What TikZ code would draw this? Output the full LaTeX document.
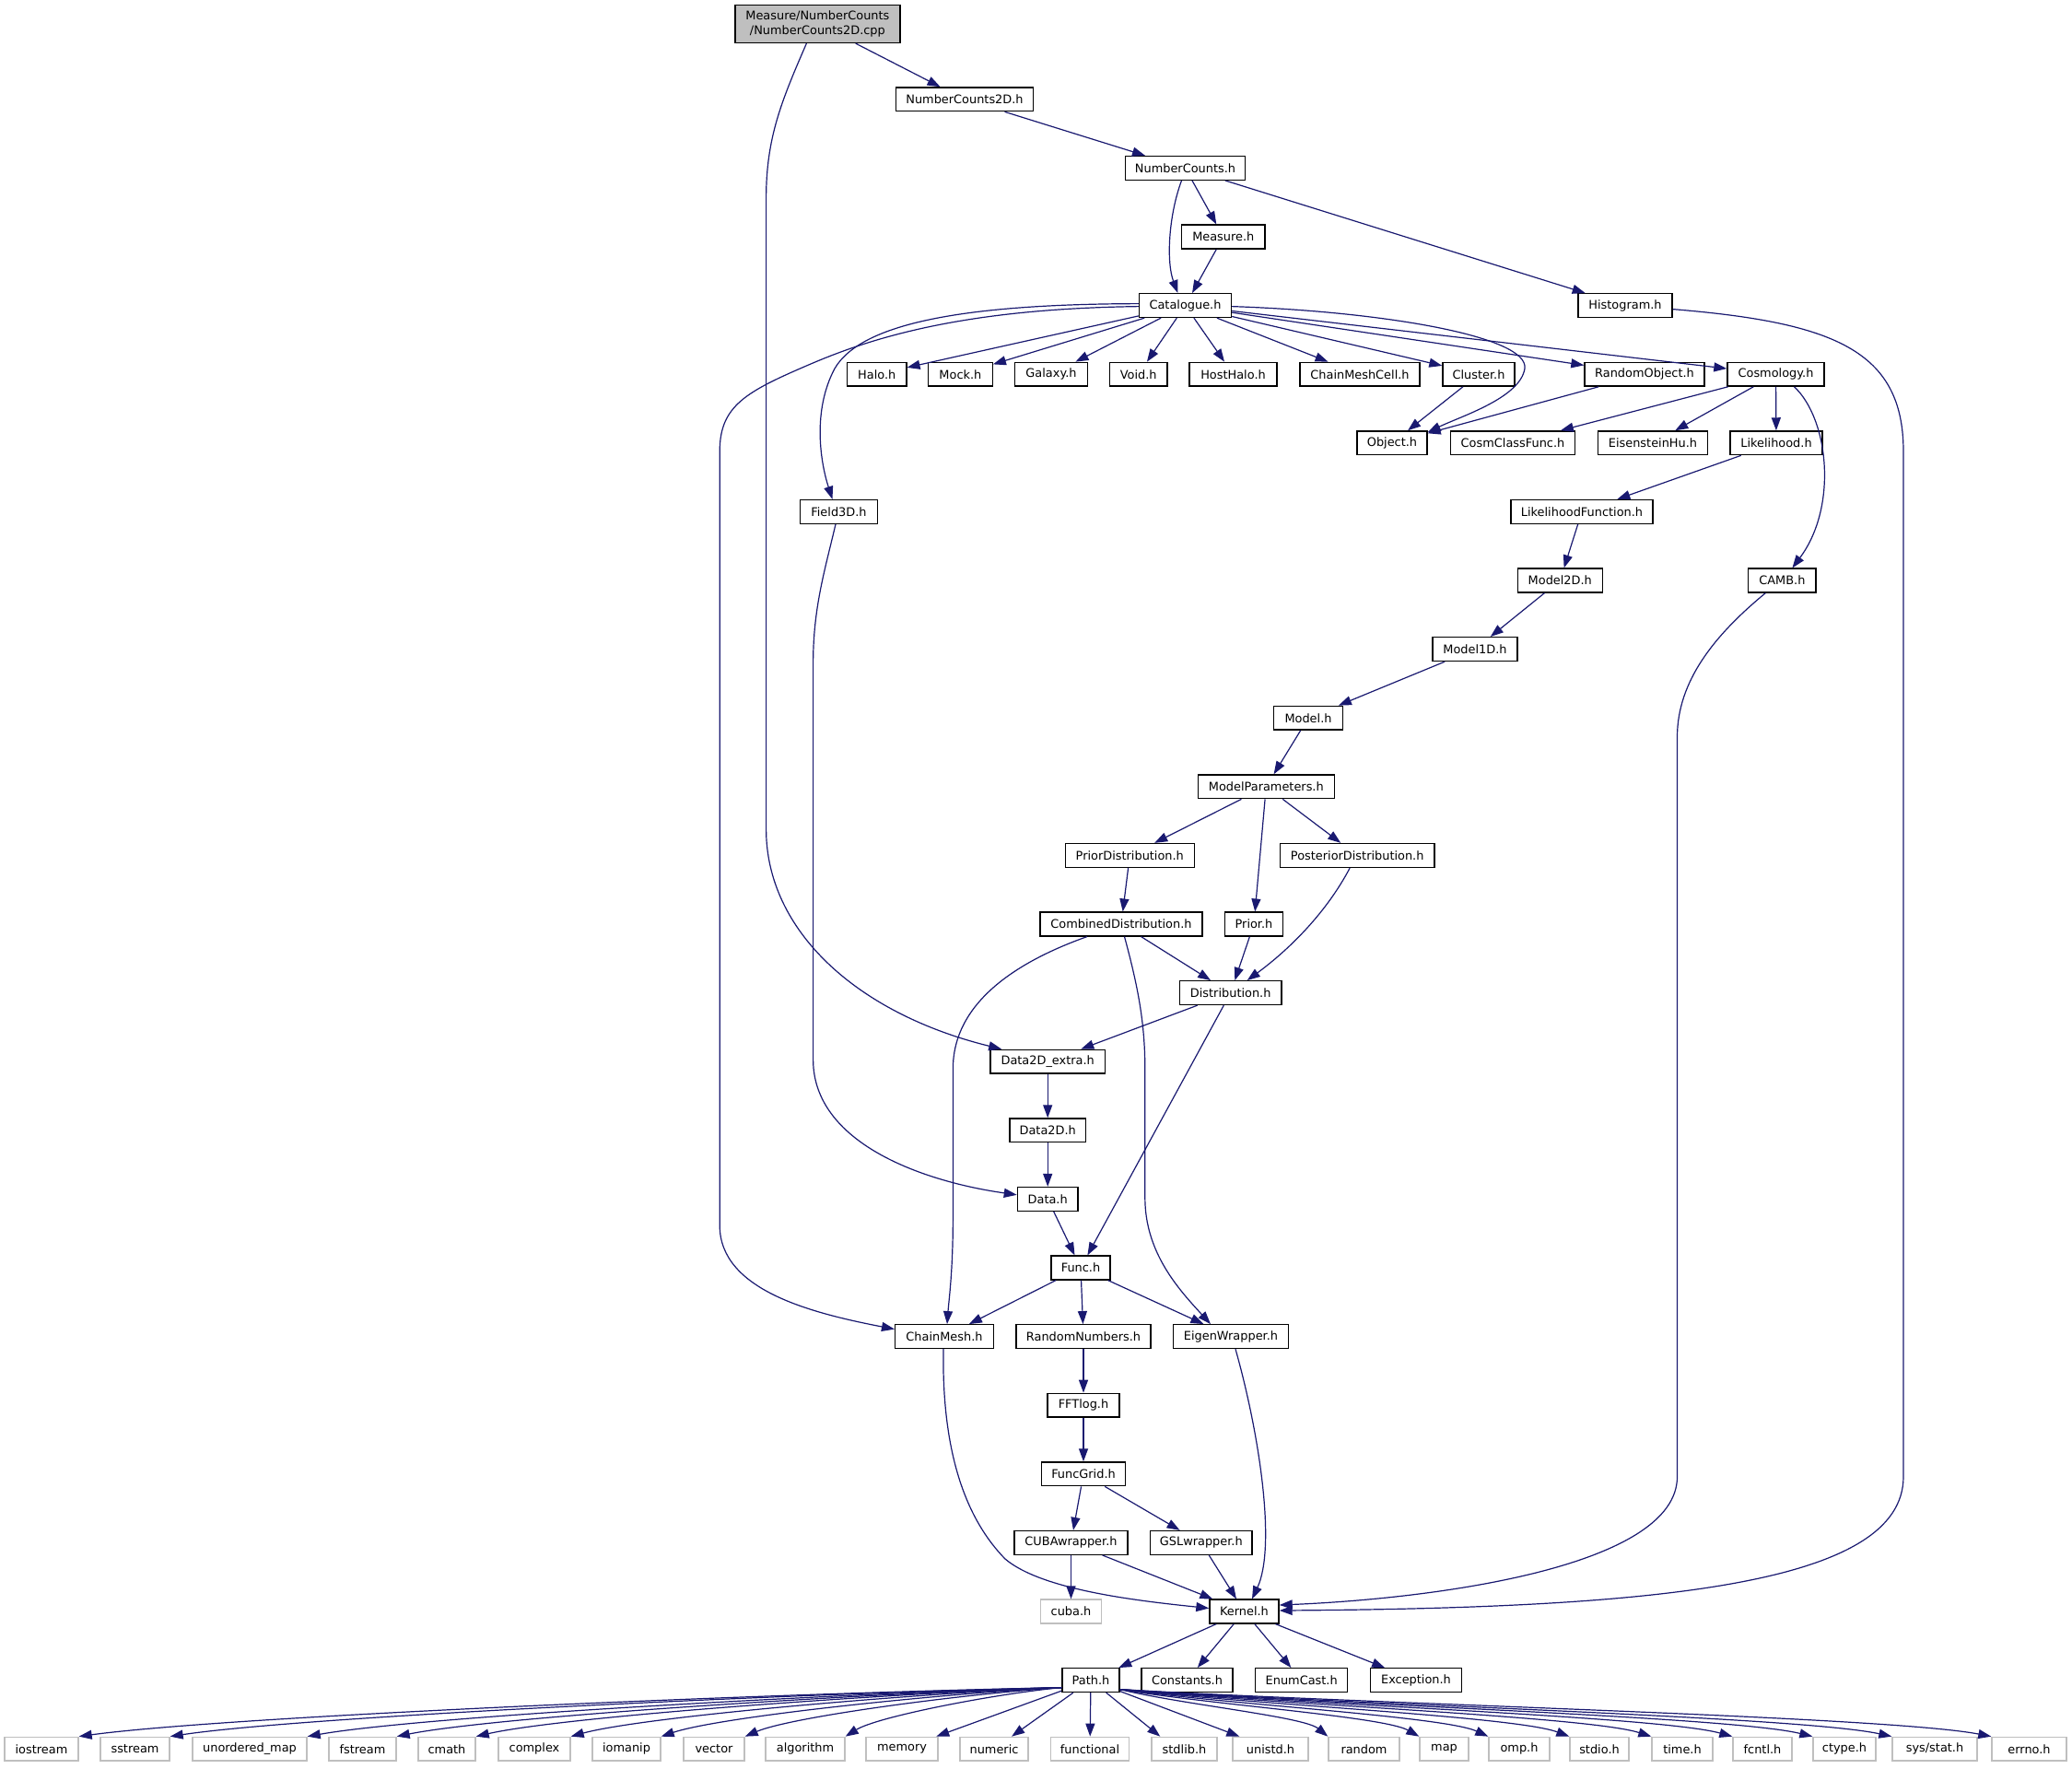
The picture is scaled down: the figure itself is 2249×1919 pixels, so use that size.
\documentclass[tikz,border=0pt]{standalone}
\usepackage{fontspec}
\setmainfont{DejaVu Sans}
\usetikzlibrary{arrows.meta,calc}
\definecolor{edgec}{HTML}{191970}
\definecolor{grayb}{HTML}{BFBFBF}
\begin{document}
\begin{tikzpicture}[x=0.5pt,y=-0.5pt,
  box/.style={draw=black,fill=white,line width=0.7pt,minimum height=12.85pt,inner sep=0pt,
    font=\fontsize{6.45pt}{7.65pt}\selectfont,text=black},
  graybox/.style={box,draw=grayb},
  topbox/.style={box,fill=grayb,minimum height=20.5pt,minimum width=89.5pt,align=center},
  wd/.style={minimum width=#1*0.5pt},
  conn/.style={draw=edgec,line width=0.6pt,-{Triangle[length=7pt,width=5pt]}}]
\useasboundingbox (0,0) rectangle (2249,1919);

% nodes
\node[topbox] (cpp) at (887.4,25.9) {Measure/NumberCounts\\/NumberCounts2D.cpp};
\node[box,wd=149] (nc2d) at (1047,107.8) {NumberCounts2D.h};
\node[box,wd=130] (nc) at (1286.5,182.4) {NumberCounts.h};
\node[box,wd=90.4] (meas) at (1327.8,257) {Measure.h};
\node[box,wd=100] (cat) at (1286.5,331.6) {Catalogue.h};
\node[box,wd=102] (hist) at (1764,331.6) {Histogram.h};

\node[box,wd=64.3] (halo) at (951.7,406.2) {Halo.h};
\node[box,wd=69.6] (mock) at (1042.4,406.2) {Mock.h};
\node[box,wd=79.5] (galaxy) at (1141,406.2) {Galaxy.h};
\node[box,wd=62.6] (void) at (1235.7,406.2) {Void.h};
\node[box,wd=95] (hosthalo) at (1338.5,406.2) {HostHalo.h};
\node[box,wd=130] (cmc) at (1476,406.2) {ChainMeshCell.h};
\node[box,wd=78] (cluster) at (1605,406.2) {Cluster.h};
\node[box,wd=130] (randobj) at (1785,406.2) {RandomObject.h};
\node[box,wd=105] (cosmo) at (1927.5,406.2) {Cosmology.h};

\node[box,wd=76] (obj) at (1511,480.8) {Object.h};
\node[box,wd=135.5] (ccf) at (1642,480.8) {CosmClassFunc.h};
\node[box,wd=118.7] (eh) at (1794,480.8) {EisensteinHu.h};
\node[box,wd=100] (lik) at (1928,480.8) {Likelihood.h};

\node[box,wd=83.5] (field) at (910.5,555.4) {Field3D.h};
\node[box,wd=154] (likf) at (1717,555.4) {LikelihoodFunction.h};

\node[box,wd=92] (m2d) at (1693.3,630) {Model2D.h};
\node[box,wd=73.3] (camb) at (1934.4,630) {CAMB.h};
\node[box,wd=92.3] (m1d) at (1601,704.6) {Model1D.h};
\node[box,wd=74.5] (model) at (1420,779.2) {Model.h};
\node[box,wd=147.8] (mpar) at (1374.3,853.8) {ModelParameters.h};

\node[box,wd=140.2] (pridist) at (1226.3,928.4) {PriorDistribution.h};
\node[box,wd=167.8] (post) at (1473.2,928.4) {PosteriorDistribution.h};
\node[box,wd=175.9] (comb) at (1217,1003) {CombinedDistribution.h};
\node[box,wd=63] (prior) at (1361,1003) {Prior.h};
\node[box,wd=110.7] (dist) at (1335.7,1077.6) {Distribution.h};

\node[box,wd=124.1] (d2e) at (1137.2,1152.2) {Data2D\_extra.h};
\node[box,wd=82.5] (d2d) at (1137.2,1226.8) {Data2D.h};
\node[box,wd=65.6] (data) at (1137.2,1301.4) {Data.h};
\node[box,wd=64] (func) at (1173,1376) {Func.h};

\node[box,wd=106.7] (chainmesh) at (1025,1450.6) {ChainMesh.h};
\node[box,wd=146.3] (rnd) at (1176,1450.6) {RandomNumbers.h};
\node[box,wd=124.6] (eigen) at (1336,1450.6) {EigenWrapper.h};
\node[box,wd=77.7] (fft) at (1176,1525.2) {FFTlog.h};
\node[box,wd=90.7] (fgrid) at (1176,1599.8) {FuncGrid.h};
\node[box,wd=123.2] (cubaw) at (1162.5,1674.4) {CUBAwrapper.h};
\node[box,wd=110.3] (gsl) at (1303.8,1674.4) {GSLwrapper.h};
\node[graybox,wd=65.5] (cuba) at (1162.5,1749) {cuba.h};
\node[box,wd=75] (kernel) at (1350.5,1749) {Kernel.h};

\node[box,wd=62] (pathh) at (1184,1823.6) {Path.h};
\node[box,wd=99] (const) at (1288.5,1823.6) {Constants.h};
\node[box,wd=100] (enumc) at (1412.7,1823.6) {EnumCast.h};
\node[box,wd=99] (exc) at (1537,1823.6) {Exception.h};

\node[graybox,wd=80] (bIostream) at (45,1898.2) {iostream};
\node[graybox,wd=75] (bSstream) at (146.5,1898.2) {sstream};
\node[graybox,wd=124] (bUmap) at (271,1898.2) {unordered\_map};
\node[graybox,wd=73] (bFstream) at (393.5,1898.2) {fstream};
\node[graybox,wd=62] (bCmath) at (485,1898.2) {cmath};
\node[graybox,wd=78] (bComplex) at (580,1898.2) {complex};
\node[graybox,wd=74] (bIomanip) at (680,1898.2) {iomanip};
\node[graybox,wd=66] (bVector) at (775,1898.2) {vector};
\node[graybox,wd=86] (bAlgo) at (874,1898.2) {algorithm};
\node[graybox,wd=78] (bMemory) at (979,1898.2) {memory};
\node[graybox,wd=74] (bNumeric) at (1079,1898.2) {numeric};
\node[graybox,wd=84.5] (bFunctional) at (1183,1898.2) {functional};
\node[graybox,wd=71] (bStdlib) at (1285.5,1898.2) {stdlib.h};
\node[graybox,wd=82] (bUnistd) at (1379,1898.2) {unistd.h};
\node[graybox,wd=77] (bRandom) at (1480.5,1898.2) {random};
\node[graybox,wd=53] (bMap) at (1567.5,1898.2) {map};
\node[graybox,wd=66] (bOmp) at (1649,1898.2) {omp.h};
\node[graybox,wd=64] (bStdio) at (1736,1898.2) {stdio.h};
\node[graybox,wd=66] (bTime) at (1826,1898.2) {time.h};
\node[graybox,wd=64] (bFcntl) at (1913,1898.2) {fcntl.h};
\node[graybox,wd=68] (bCtype) at (2002,1898.2) {ctype.h};
\node[graybox,wd=92] (bSysstat) at (2100,1898.2) {sys/stat.h};
\node[graybox,wd=81] (bErrno) at (2202.5,1898.2) {errno.h};

% edges
\draw[conn] (cpp) -- (nc2d);
\draw[conn] ($(cpp.south)+(-12,0)$) .. controls (848,110) and (831.6,150) .. (831.6,215)
  -- (831.6,900) .. controls (831.6,1010) and (930,1100) .. ($(d2e.north)+(-50,0)$);
\draw[conn] (nc2d) -- (nc);
\draw[conn] ($(nc.south)+(-4,0)$) .. controls (1268,235) and (1266,285) .. ($(cat.north)+(-8,0)$);
\draw[conn] (nc) -- (meas);
\draw[conn] (meas) -- (cat);
\draw[conn] (nc) -- (hist);
\draw[conn] ($(hist.east)+(0,4)$) .. controls (1990,350) and (2066,380) .. (2066,490)
  -- (2066,1602.7) .. controls (2066,1720) and (1800,1745) .. ($(kernel.east)+(0,-1)$);

\foreach \t in {halo,mock,galaxy,void,hosthalo,cmc,cluster,randobj,cosmo}
  {\draw[conn] (cat) -- (\t);}
\draw[conn] ($(cat.east)+(0,1)$) .. controls (1500,338) and (1660,365) .. (1655,400)
  .. controls (1650,432) and (1585,452) .. ($(obj.north east)+(0,2)$);
\draw[conn] ($(cat.west)+(0,-2)$) .. controls (1050,330) and (935,350) .. (906,400)
  .. controls (882,445) and (890,500) .. ($(field.north)+(-7,0)$);
\draw[conn] ($(cat.west)+(0,1)$) .. controls (1050,335) and (950,365) .. (880,395)
  .. controls (810,425) and (781.2,440) .. (781.2,490) -- (781.2,1330)
  .. controls (781.2,1400) and (880,1425) .. ($(chainmesh.west)+(0,-8)$);

\draw[conn] (cluster) -- (obj);
\draw[conn] (randobj) -- (obj);
\draw[conn] (cosmo) -- (ccf);
\draw[conn] (cosmo) -- (eh);
\draw[conn] (cosmo) -- (lik);
\draw[conn] ($(cosmo.south)+(20,0)$) .. controls (1985,455) and (1995,550) .. ($(camb.north)+(11,0)$);
\draw[conn] (lik) -- (likf);
\draw[conn] (likf) -- (m2d);
\draw[conn] (m2d) -- (m1d);
\draw[conn] (m1d) -- (model);
\draw[conn] (model) -- (mpar);
\draw[conn] (mpar) -- (pridist);
\draw[conn] (mpar) -- (prior);
\draw[conn] (mpar) -- (post);
\draw[conn] (pridist) -- (comb);
\draw[conn] (comb) -- (dist);
\draw[conn] (prior) -- (dist);
\draw[conn] ($(post.south)+(-8,0)$) .. controls (1440,990) and (1400,1030) .. ($(dist.north)+(18,0)$);
\draw[conn] (dist) -- (d2e);
\draw[conn] (dist) -- (func);
\draw[conn] ($(comb.south)+(-37,0)$) .. controls (1100,1045) and (1034.4,1090) .. (1034.4,1160)
  -- (1034.4,1320) .. controls (1034.4,1380) and (1030,1410) .. ($(chainmesh.north)+(3,0)$);
\draw[conn] ($(comb.south)+(3.5,0)$) .. controls (1235,1070) and (1242.8,1110) .. (1242.8,1160)
  -- (1242.8,1300) .. controls (1242.8,1360) and (1280,1400) .. ($(eigen.north)+(-22,0)$);
\draw[conn] ($(field.south)+(-3.5,0)$) .. controls (895,620) and (882.6,660) .. (882.6,720)
  -- (882.6,1150) .. controls (882.6,1240) and (1000,1282) .. ($(data.west)+(0,-4.6)$);
\draw[conn] (d2e) -- (d2d);
\draw[conn] (d2d) -- (data);
\draw[conn] (data) -- (func);
\draw[conn] (func) -- (chainmesh);
\draw[conn] (func) -- (rnd);
\draw[conn] (func) -- (eigen);
\draw[conn] (rnd) -- (fft);
\draw[conn] (fft) -- (fgrid);
\draw[conn] (fgrid) -- (cubaw);
\draw[conn] (fgrid) -- (gsl);
\draw[conn] (cubaw) -- (cuba);
\draw[conn] (cubaw) -- (kernel);
\draw[conn] (gsl) -- (kernel);
\draw[conn] ($(chainmesh.south)+(-1,0)$) .. controls (1022,1580) and (1050,1650) .. (1091,1692)
  .. controls (1130,1725) and (1230,1737) .. ($(kernel.west)+(0,-3.5)$);
\draw[conn] ($(eigen.south)+(5,0)$) .. controls (1368,1560) and (1385,1680) .. ($(kernel.north)+(8.5,0)$);
\draw[conn] ($(camb.south)+(-18,0)$) .. controls (1860,690) and (1820.5,740) .. (1820.5,800)
  -- (1820.5,1602.7) .. controls (1820.5,1700) and (1560,1735) .. ($(kernel.east)+(0,-7)$);

\draw[conn] (kernel) -- (pathh);
\draw[conn] (kernel) -- (const);
\draw[conn] (kernel) -- (enumc);
\draw[conn] (kernel) -- (exc);

% Path.h fan
\foreach \n/\ca/\cb in {bIostream/832.6/245.2,bSstream/862.3/329.4,bUmap/907/456,
  bFstream/936.1/538.5,bCmath/961.9/611.6,bComplex/992.8/699.1,bIomanip/1022.2/782.4,
  bVector/1049.5/859.8,bAlgo/1082.2/952.4}
  {\draw[conn] ($(pathh.west)+(0,8)$) .. controls (\ca,1838) and (\cb,1863) .. (\n.north east);}
\draw[conn] (pathh) -- (bMemory);
\draw[conn] (pathh) -- (bNumeric);
\draw[conn] (pathh) -- (bFunctional);
\draw[conn] (pathh) -- ($(bStdlib.north west)+(10,0)$);
\draw[conn] (pathh) -- ($(bUnistd.north west)+(8,0)$);
\foreach \n/\ca/\cb in {bRandom/1283/1414.8,bMap/1312.8/1501.9,bOmp/1335.3/1567.9,
  bStdio/1361.7/1645.3,bTime/1388.4/1723.6,bFcntl/1414.8/1801.1,bCtype/1440.9/1877.6,
  bSysstat/1466.7/1953.3,bErrno/1499.1/2048.4}
  {\draw[conn] ($(pathh.east)+(0,10)$) .. controls (\ca,1850) and (\cb,1863) .. (\n.north west);}
\end{tikzpicture}
\end{document}
